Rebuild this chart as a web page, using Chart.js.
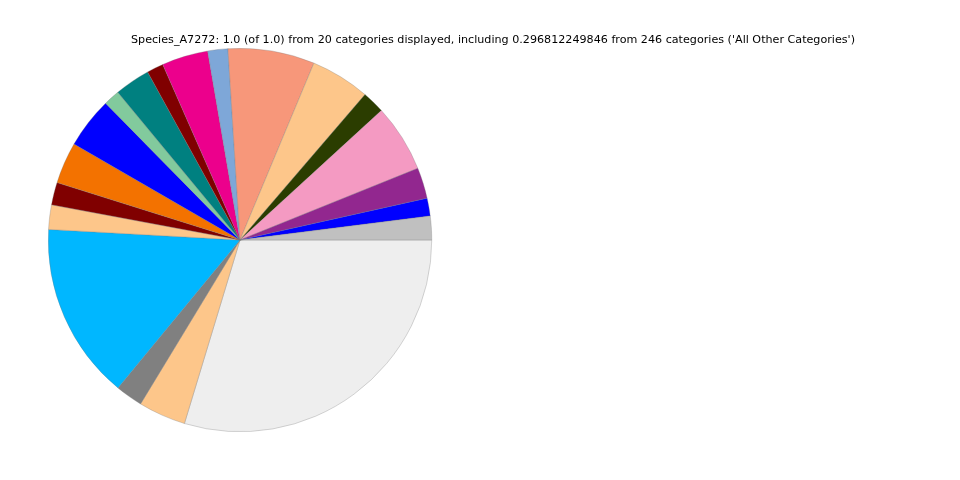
<!DOCTYPE html>
<html>
<head>
<meta charset="utf-8">
<script src="https://cdn.jsdelivr.net/npm/chart.js@4/dist/chart.umd.min.js"></script>
<style>
  html, body { margin: 0; padding: 0; background: #fff; }
  #wrap { position: relative; width: 960px; height: 480px; }
  #titulo {
    position: absolute; left: 0; top: 33px; width: 986px; text-align: center;
    font-family: "DejaVu Sans", sans-serif; font-size: 11.15px; color: #000; white-space: nowrap;
  }
</style>
</head>
<body>
<div id="wrap">
  <canvas id="grafico" width="960" height="480"></canvas>
  <div id="titulo">Species_A7272: 1.0 (of 1.0) from 20 categories displayed, including 0.296812249846 from 246 categories ('All Other Categories')</div>
</div>
<script>
// slices in counterclockwise order starting at 3 o'clock (as in the reference)
const categorias = [
  "Cat 1", "Cat 2", "Cat 3", "Cat 4", "Cat 5", "Cat 6", "Cat 7", "Cat 8", "Cat 9", "Cat 10",
  "Cat 11", "Cat 12", "Cat 13", "Cat 14", "Cat 15", "Cat 16", "Cat 17", "Cat 18", "Cat 19",
  "All Other Categories"
];
const valores = [
  0.020, 0.015, 0.026, 0.057, 0.019, 0.050, 0.073, 0.017, 0.039, 0.014,
  0.030, 0.0136, 0.043, 0.035, 0.019, 0.0206, 0.149, 0.023, 0.040, 0.296812249846
];
const colores = [
  "#c0c0c0", "#0000ff", "#92278f", "#f49ac2", "#2b3d00", "#fdc68a", "#f7977a", "#7ea7d8", "#ec008c", "#800000",
  "#008080", "#82ca9d", "#0000ff", "#f37200", "#800000", "#fdc68a", "#00b7ff", "#808080", "#fdc68a", "#eeeeee"
];

// Chart.js dibuja en sentido horario: invertimos el orden y empezamos a las 3
const ctx = document.getElementById('grafico').getContext('2d');
const grafico = new Chart(ctx, {
  type: 'pie',
  data: {
    labels: categorias.slice().reverse(),
    datasets: [{
      data: valores.slice().reverse(),
      backgroundColor: colores.slice().reverse(),
      borderColor: "rgba(120,120,120,0.6)",
      borderWidth: 0.5
    }]
  },
  options: {
    responsive: false,
    animation: false,
    rotation: 90,
    layout: { padding: { left: 48, right: 528, top: 48, bottom: 48 } },
    plugins: {
      legend: { display: false },
      tooltip: { enabled: false }
    }
  }
});
</script>
</body>
</html>
